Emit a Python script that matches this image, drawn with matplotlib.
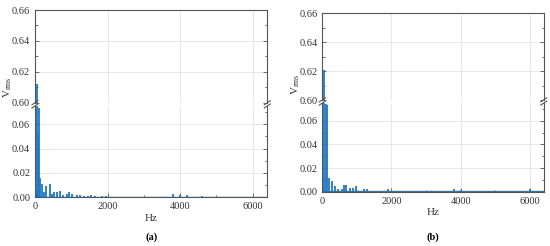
import matplotlib.pyplot as plt
from matplotlib.ticker import MultipleLocator

plt.rcParams['font.family'] = ['Liberation Serif', 'DejaVu Serif']
plt.rcParams['mathtext.fontset'] = 'custom'
plt.rcParams['mathtext.rm'] = 'Liberation Serif'

# harmonic spectrum, panel (a)
freq_a = [25, 50, 75, 110, 150, 200, 250, 300, 400, 460, 530, 600, 690, 760,
          880, 950, 1010, 1150, 1250, 1350, 1450, 1550, 1650, 1850, 1950,
          2300, 2700, 3100, 3500, 3800, 4000, 4200, 4600, 5000, 5600, 6200]
vrms_a = [0.005, 0.612, 0.052, 0.073, 0.016, 0.011, 0.004, 0.0096, 0.0107, 0.003,
          0.004, 0.004, 0.005, 0.002, 0.003, 0.004, 0.003, 0.002, 0.0015, 0.0012,
          0.001, 0.0015, 0.001, 0.001, 0.001,
          0.0005, 0.0005, 0.0005, 0.0005, 0.003, 0.002, 0.002, 0.001, 0.0005, 0.0005, 0.0005]

# harmonic spectrum, panel (b)
freq_b = [25, 50, 100, 150, 200, 270, 370, 465, 560, 640, 690, 800, 900, 970,
          1050, 1200, 1300, 1400, 1550, 1800, 1900, 2000,
          2400, 2800, 3200, 3600, 3800, 4000, 4200, 4600, 5200, 5600, 6000, 6300]
vrms_b = [0.006, 0.621, 0.074, 0.073, 0.012, 0.009, 0.005, 0.002, 0.0025, 0.006,
          0.006, 0.003, 0.003, 0.0045, 0.001, 0.002, 0.002, 0.001, 0.001, 0.001,
          0.002, 0.001,
          0.0005, 0.0005, 0.0005, 0.0005, 0.002, 0.0015, 0.001, 0.0005, 0.0005, 0.0005, 0.002, 0.0005]

bar_color = '#1f77c4'
spine_col = '#555555'
fs = 7.5

fig = plt.figure(figsize=(5.5, 2.46), dpi=100)


def style(ax):
    for s in ax.spines.values():
        s.set_color(spine_col)
        s.set_linewidth(0.8)
    ax.tick_params(which='both', direction='in', colors=spine_col, labelcolor='#333333',
                   labelsize=fs, right=True, top=False, width=0.6)
    ax.tick_params(which='major', length=3)
    ax.tick_params(which='minor', length=1.8)
    ax.grid(True, which='major', color='#e3e3e3', linewidth=0.6)
    ax.set_axisbelow(True)


def panel(x0, x1, y_top, y_brk_hi, y_brk_lo, y_bot, freq, vals, tag):
    W, H = 550.0, 246.0
    left = x0 / W
    width = (x1 - x0) / W
    ax_hi = fig.add_axes([left, 1 - y_brk_hi / H, width, (y_brk_hi - y_top) / H])
    ax_lo = fig.add_axes([left, 1 - y_bot / H, width, (y_bot - y_brk_lo) / H])
    for ax in (ax_hi, ax_lo):
        ax.vlines(freq, 0, vals, color=bar_color, linewidth=1.3)
        ax.axhline(0.0003, color=bar_color, linewidth=1.0)
        ax.set_xlim(0, 6400)
        ax.xaxis.set_major_locator(MultipleLocator(2000))
        ax.xaxis.set_minor_locator(MultipleLocator(1000))
        style(ax)
    ax_hi.set_ylim(0.60, 0.66)
    ax_hi.yaxis.set_minor_locator(MultipleLocator(0.01))
    ax_hi.set_yticks([0.60, 0.62, 0.64, 0.66])
    ax_hi.set_yticklabels(['0.60', '0.62', '0.64', '0.66'])
    ax_hi.spines['bottom'].set_visible(False)
    ax_hi.tick_params(axis='x', which='both', bottom=False, labelbottom=False)
    ax_lo.set_ylim(0, 0.075)
    ax_lo.set_yticks([0.0, 0.02, 0.04, 0.06])
    ax_lo.set_yticklabels(['0.00', '0.02', '0.04', '0.06'])
    ax_lo.yaxis.set_minor_locator(MultipleLocator(0.01))
    ax_lo.spines['top'].set_visible(False)
    ax_lo.set_xticks([0, 2000, 4000, 6000])
    ax_lo.set_xticklabels(['0', '2000', '4000', '6000'])
    ax_lo.set_xlabel('Hz', fontsize=fs + 0.5, color='#333333', labelpad=2)

    # break marks
    yb = (y_brk_hi + y_brk_lo) / 2.0
    for xp in (x0, x1):
        for dy in (-1.6, 1.6):
            fig.lines.append(plt.Line2D([(xp - 3) / W, (xp + 3) / W],
                                        [1 - (yb + dy + 2) / H, 1 - (yb + dy - 2) / H],
                                        transform=fig.transFigure, color=spine_col,
                                        linewidth=0.8))
    fig.text((x0 - 27) / W, 1 - (yb - 17) / H, r'V$_{\mathrm{rms}}$', rotation=90,
             ha='center', va='center', fontsize=fs + 0.5, color='#333333')
    fig.text((x0 + x1) / 2 / W, 1 - 237 / H, tag, ha='center', va='center',
             fontsize=7.5, fontweight='bold')
    return ax_hi, ax_lo


panel(35, 267.3, 10, 102.7, 106, 197.3, freq_a, vrms_a, '(a)')
panel(322.3, 543.7, 13.3, 100, 103, 191.7, freq_b, vrms_b, '(b)')

fig.savefig('out.png', dpi=100)
